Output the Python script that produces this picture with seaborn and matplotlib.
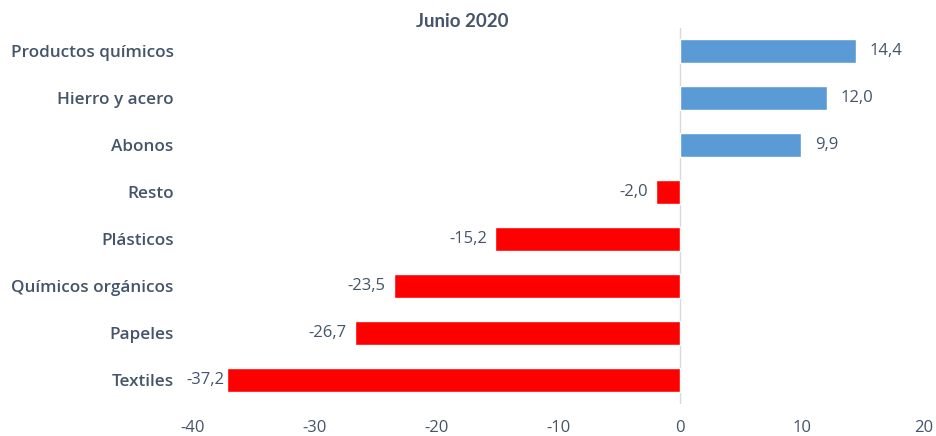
import matplotlib
matplotlib.use("Agg")
import matplotlib.pyplot as plt
import seaborn as sns
import pandas as pd

categories = ["Productos químicos", "Hierro y acero", "Abonos", "Resto",
              "Plásticos", "Químicos orgánicos", "Papeles", "Textiles"]
values = [14.4, 12.0, 9.9, -2.0, -15.2, -23.5, -26.7, -37.2]
x_ticks = [-40, -30, -20, -10, 0, 10, 20]
title = "Junio 2020"

text_color = "#44546A"
blue = "#5B9BD5"
red = "#FF0000"

df = pd.DataFrame({"cat": categories, "val": values})
df["sign"] = ["pos" if v >= 0 else "neg" for v in values]

sns.set_theme(style="white")
plt.rcParams["font.family"] = ["Open Sans", "DejaVu Sans"]

fig = plt.figure(figsize=(9.36, 4.36), dpi=100)
ax = fig.add_axes([0.2062, 0.0745, 0.781, 0.8624])

sns.barplot(data=df, x="val", y="cat", hue="sign", order=categories,
            palette={"pos": blue, "neg": red}, orient="h", width=0.5,
            dodge=False, legend=False, saturation=1, ax=ax)

for cont in ax.containers:
    labels = [f"{v:.1f}".replace(".", ",") for v in cont.datavalues]
    neg = cont.datavalues.min() < 0
    anns = ax.bar_label(cont, labels=labels, padding=6 if neg else 10,
                        fontsize=12, color=text_color)
    # longest bar sits tight against the category labels
    for a, v in zip(anns, cont.datavalues):
        if v == min(values):
            a.xyann = (-2, a.xyann[1])

ax.set_xlim(-40, 20)
ax.set_xticks(x_ticks)
ax.set_xticklabels([str(t) for t in x_ticks])
ax.axvline(0, color="#D9D9D9", lw=1, zorder=0)
for s in ax.spines.values():
    s.set_visible(False)
ax.tick_params(axis="x", length=0, pad=12, labelsize=12, labelcolor=text_color)
ax.tick_params(axis="y", length=0, pad=14, labelcolor=text_color)
for lbl in ax.get_yticklabels():
    lbl.set_fontsize(12.3)
    lbl.set_fontweight("semibold")
ax.set_xlabel("")
ax.set_ylabel("")
fig.text(0.494, 0.95, title, ha="center", va="center", fontsize=13.5,
         fontweight="bold", family=["Lato", "DejaVu Sans"], color=text_color)

fig.savefig("out.png", dpi=100)
